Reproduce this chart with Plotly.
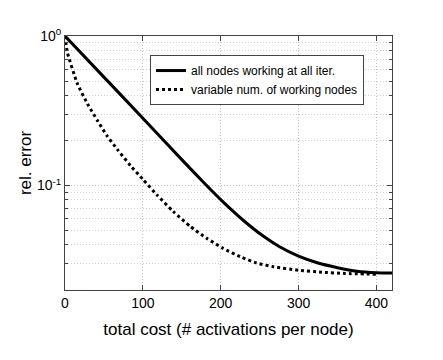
import plotly.graph_objects as go

# solid curve: all nodes working at every iteration
x_all = [0, 50, 100, 150, 180, 205, 230, 255, 275, 300, 325, 350, 375, 400, 420]
y_all = [1.0, 0.531, 0.282, 0.149, 0.1023, 0.0759, 0.0579, 0.0457, 0.0391,
         0.0337, 0.0303, 0.0282, 0.0267, 0.0261, 0.0260]

# dotted curve: variable number of working nodes
x_var = [0, 3, 16, 29, 42, 54, 67, 84, 100, 118, 139, 161, 182, 203, 225,
         246, 268, 300, 330, 360, 400]
y_var = [1.0, 0.778, 0.478, 0.351, 0.270, 0.215, 0.175, 0.136, 0.110, 0.0867,
         0.0670, 0.0532, 0.0444, 0.0380, 0.0334, 0.0303, 0.0286, 0.0271,
         0.0263, 0.0258, 0.0255]

names = ["all nodes working at all iter.", "variable num. of working nodes"]
x_ticks = [0, 100, 200, 300, 400]
y_ticks = [1, 0.1]
y_ticktext = ["10<sup>0</sup>", "10<sup>-1</sup>"]
y_minor = [0.02, 0.03, 0.04, 0.05, 0.06, 0.07, 0.08, 0.09,
           0.2, 0.3, 0.4, 0.5, 0.6, 0.7, 0.8, 0.9]

fig = go.Figure()
fig.add_trace(go.Scatter(x=x_all, y=y_all, mode="lines", name=names[0],
                         line=dict(color="black", width=3, shape="spline", smoothing=0.5)))
fig.add_trace(go.Scatter(x=x_var, y=y_var, mode="lines", name=names[1],
                         line=dict(color="black", width=3, dash="dot", shape="spline", smoothing=0.5)))

grid = dict(showgrid=True, gridcolor="#c4c4c4", gridwidth=1, griddash="1px,2px")
frame = dict(showline=True, linecolor="#444", linewidth=1, mirror="allticks",
             ticks="inside", ticklen=5, tickcolor="#444", zeroline=False, automargin=False)

# the page body adds an 8px margin, so the figure is made 16px smaller
fig.update_layout(
    width=427, height=344,
    margin=dict(l=57, r=43, t=28, b=62),
    paper_bgcolor="white", plot_bgcolor="white",
    font=dict(family="Liberation Sans, Arial", size=14, color="black"),
    xaxis=dict(range=[0, 420], tickvals=x_ticks,
               title=dict(text="total cost (# activations per node)", font=dict(size=17), standoff=13),
               **grid, **frame),
    yaxis=dict(type="log", range=[-1.699, 0], tickvals=y_ticks, ticktext=y_ticktext,
               title=dict(text="rel. error", font=dict(size=17), standoff=0),
               minor=dict(tickvals=y_minor, ticks="inside", ticklen=3, tickcolor="#444",
                          showgrid=True, gridcolor="#d0d0d0", griddash="1px,2px"),
               **grid, **frame),
    legend=dict(x=0.26, y=0.925, xanchor="left", yanchor="top",
                bordercolor="#444", borderwidth=1, bgcolor="white",
                font=dict(size=12), itemwidth=30),
    showlegend=True,
)

fig.write_html("out.html")
